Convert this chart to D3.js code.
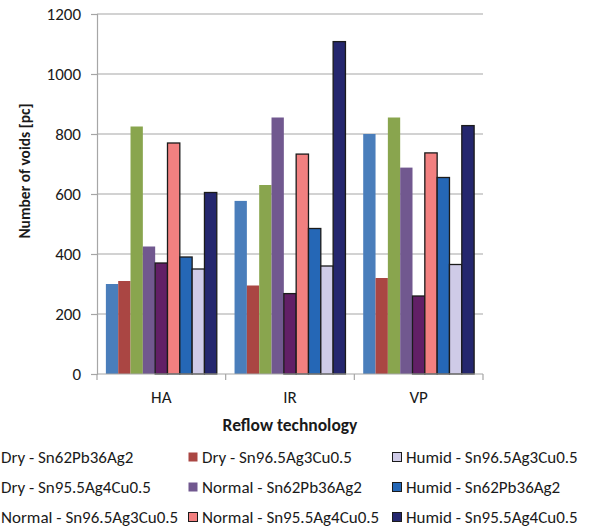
<!DOCTYPE html>
<html>
<head>
<meta charset="utf-8">
<script src="https://cdn.jsdelivr.net/npm/d3@7"></script>
<style>
  html, body { margin: 0; padding: 0; background: #fff; }
  svg { display: block; }
  text { font-family: Carlito, Calibri, "Liberation Sans Narrow", "Open Sans", sans-serif; fill: #1a1a1a; }
</style>
</head>
<body>
<svg id="chart" width="594" height="531"></svg>
<script>
// Reflow technologies on the x axis
const categories = ["HA", "IR", "VP"];

// Storage condition + solder alloy series (drawn in this order inside each group)
const seriesNames = [
  "Dry - Sn62Pb36Ag2",
  "Dry - Sn96.5Ag3Cu0.5",
  "Dry - Sn95.5Ag4Cu0.5",
  "Normal - Sn62Pb36Ag2",
  "Normal - Sn96.5Ag3Cu0.5",
  "Normal - Sn95.5Ag4Cu0.5",
  "Humid - Sn62Pb36Ag2",
  "Humid - Sn96.5Ag3Cu0.5",
  "Humid - Sn95.5Ag4Cu0.5"
];

// Number of voids per series, one value per reflow technology (HA, IR, VP)
const dryPb       = [300, 577, 800];
const dryAg3      = [310, 295, 320];
const dryAg4      = [825, 630, 855];
const normalPb    = [425, 855, 688];
const normalAg3   = [370, 268, 260];
const normalAg4   = [770, 733, 737];
const humidPb     = [390, 485, 655];
const humidAg3    = [350, 360, 365];
const humidAg4    = [605, 1108, 828];

const seriesValues = [dryPb, dryAg3, dryAg4, normalPb, normalAg3, normalAg4, humidPb, humidAg3, humidAg4];

const seriesColors = ["#4A7EBB", "#AA4643", "#89A54E", "#71588F", "#621F66",
                      "#F28080", "#2567B6", "#CFCBE7", "#25276E"];
const seriesOutlined = [false, false, false, false, true, true, true, true, true];

// Y axis ticks
const yTicks = [0, 200, 400, 600, 800, 1000, 1200];

// Legend layout: three columns, filled row by row
const legendOrder = [
  "Dry - Sn62Pb36Ag2", "Dry - Sn96.5Ag3Cu0.5", "Humid - Sn96.5Ag3Cu0.5",
  "Dry - Sn95.5Ag4Cu0.5", "Normal - Sn62Pb36Ag2", "Humid - Sn62Pb36Ag2",
  "Normal - Sn96.5Ag3Cu0.5", "Normal - Sn95.5Ag4Cu0.5", "Humid - Sn95.5Ag4Cu0.5"
];

const svg = d3.select("#chart");
const plot = { left: 97, right: 483, top: 14, bottom: 374 };

const x0 = d3.scaleBand().domain(categories).range([plot.left, plot.right]).paddingInner(0).paddingOuter(0);
const inner = 0.862;
const x1 = d3.scaleBand().domain(d3.range(seriesNames.length))
  .range([0, x0.bandwidth() * inner]);
const groupOffset = x0.bandwidth() * (1 - inner) / 2;
const y = d3.scaleLinear().domain([0, 1200]).range([plot.bottom, plot.top]);

const gridColor = "#A6A6A6";

// Horizontal gridlines
svg.append("g").selectAll("line").data(yTicks.filter(d => d > 0)).join("line")
  .attr("x1", plot.left).attr("x2", plot.right)
  .attr("y1", d => y(d)).attr("y2", d => y(d))
  .attr("stroke", gridColor).attr("stroke-width", 1.2);

// Bars
const groups = svg.append("g").selectAll("g").data(categories).join("g")
  .attr("transform", c => `translate(${x0(c) + groupOffset},0)`);

groups.each(function(c, ci) {
  d3.select(this).selectAll("rect").data(seriesValues.map((vals, si) => ({ si, v: vals[ci] })))
    .join("rect")
    .attr("x", d => x1(d.si))
    .attr("width", x1.bandwidth())
    .attr("y", d => y(d.v))
    .attr("height", d => y(0) - y(d.v))
    .attr("fill", d => seriesColors[d.si])
    .attr("stroke", d => seriesOutlined[d.si] ? "#1b1b1b" : "none")
    .attr("stroke-width", 1.3);
});

// Y axis
const yAxis = d3.axisLeft(y).tickValues(yTicks).tickSize(6).tickPadding(10).tickFormat(d3.format("d"));
const gy = svg.append("g").attr("transform", `translate(${plot.left},0)`).call(yAxis);
gy.select(".domain").attr("stroke", gridColor).attr("stroke-width", 1.2);
gy.selectAll(".tick line").attr("stroke", gridColor).attr("stroke-width", 1.2);
gy.selectAll(".tick text").style("font-size", "17px").attr("fill", "#1a1a1a");

// X axis with ticks at the category boundaries
const gx = svg.append("g").attr("transform", `translate(0,${plot.bottom})`);
gx.append("line").attr("x1", plot.left).attr("x2", plot.right)
  .attr("stroke", gridColor).attr("stroke-width", 1.2);
const bounds = categories.map(c => x0(c)).concat([x0(categories[categories.length - 1]) + x0.bandwidth()]);
gx.selectAll("line.tick").data(bounds).join("line").attr("class", "tick")
  .attr("x1", d => d).attr("x2", d => d).attr("y1", 0).attr("y2", 6)
  .attr("stroke", gridColor).attr("stroke-width", 1.2);
gx.selectAll("text").data(categories).join("text")
  .attr("x", c => x0(c) + x0.bandwidth() / 2).attr("y", 29)
  .attr("text-anchor", "middle").style("font-size", "17px").text(c => c);

// Axis titles
svg.append("text").attr("x", (plot.left + plot.right) / 2).attr("y", 431)
  .attr("text-anchor", "middle").style("font-size", "17.5px").style("font-weight", "bold")
  .text("Reflow technology");
svg.append("text").attr("transform", "translate(30,171) rotate(-90)")
  .attr("text-anchor", "middle").style("font-size", "15.5px").style("font-weight", "bold")
  .text("Number of voids [pc]");

// Legend
const colX = [-13, 188, 392];
const rowY = [457, 487, 517];
const legend = svg.append("g").selectAll("g").data(legendOrder).join("g")
  .attr("transform", (d, i) => `translate(${colX[i % 3]},${rowY[Math.floor(i / 3)]})`);
legend.append("rect")
  .attr("x", 0.5).attr("y", -4.5).attr("width", 9).attr("height", 9)
  .attr("fill", d => seriesColors[seriesNames.indexOf(d)])
  .attr("stroke", d => seriesOutlined[seriesNames.indexOf(d)] ? "#1b1b1b" : "none")
  .attr("stroke-width", 1);
legend.append("text").attr("x", 14).attr("y", 0).attr("dy", "0.35em")
  .style("font-size", "17px").text(d => d);
</script>
</body>
</html>
